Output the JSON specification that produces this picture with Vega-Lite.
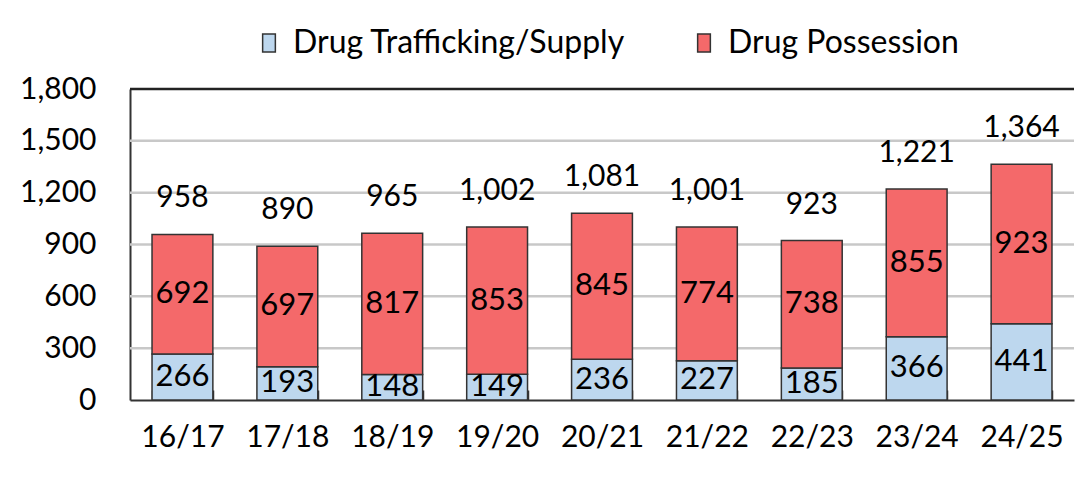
{
  "$schema": "https://vega.github.io/schema/vega-lite/v6.json",
  "width": 944,
  "height": 311,
  "autosize": {"type": "none"},
  "padding": {"left": 130, "top": 89, "right": 3, "bottom": 81},
  "background": "white",
  "config": {
    "font": "Lato",
    "view": {"stroke": null},
    "axis": {"labelFont": "Lato", "labelColor": "black"}
  },
  "datasets": {
    "grid": [{"g": 300}, {"g": 600}, {"g": 900}, {"g": 1200}, {"g": 1500}],
    "top": [{"g": 1800}]
  },
  "data": {
    "values": [
      {"year": "16/17", "type": "Drug Trafficking/Supply", "k": 1, "value": 266},
      {"year": "16/17", "type": "Drug Possession", "k": 2, "value": 692},
      {"year": "17/18", "type": "Drug Trafficking/Supply", "k": 1, "value": 193},
      {"year": "17/18", "type": "Drug Possession", "k": 2, "value": 697},
      {"year": "18/19", "type": "Drug Trafficking/Supply", "k": 1, "value": 148},
      {"year": "18/19", "type": "Drug Possession", "k": 2, "value": 817},
      {"year": "19/20", "type": "Drug Trafficking/Supply", "k": 1, "value": 149},
      {"year": "19/20", "type": "Drug Possession", "k": 2, "value": 853},
      {"year": "20/21", "type": "Drug Trafficking/Supply", "k": 1, "value": 236},
      {"year": "20/21", "type": "Drug Possession", "k": 2, "value": 845},
      {"year": "21/22", "type": "Drug Trafficking/Supply", "k": 1, "value": 227},
      {"year": "21/22", "type": "Drug Possession", "k": 2, "value": 774},
      {"year": "22/23", "type": "Drug Trafficking/Supply", "k": 1, "value": 185},
      {"year": "22/23", "type": "Drug Possession", "k": 2, "value": 738},
      {"year": "23/24", "type": "Drug Trafficking/Supply", "k": 1, "value": 366},
      {"year": "23/24", "type": "Drug Possession", "k": 2, "value": 855},
      {"year": "24/25", "type": "Drug Trafficking/Supply", "k": 1, "value": 441},
      {"year": "24/25", "type": "Drug Possession", "k": 2, "value": 923}
    ]
  },
  "layer": [
    {
      "data": {"name": "grid"},
      "mark": {"type": "rule", "stroke": "#C8C8C8", "strokeWidth": 2.5},
      "encoding": {
        "y": {
          "field": "g", "type": "quantitative", "title": null,
          "axis": {
            "title": null, "values": [0, 300, 600, 900, 1200, 1500, 1800],
            "format": ",d", "labelFontSize": 30, "labelPadding": 34, "ticks": false,
            "domainColor": "#333333", "domainWidth": 2, "grid": false
          }
        }
      }
    },
    {
      "data": {"name": "top"},
      "mark": {"type": "rule", "stroke": "#222222", "strokeWidth": 2.5},
      "encoding": {
        "y": {
          "field": "g", "type": "quantitative", "title": null,
          "axis": {
            "title": null, "values": [0, 300, 600, 900, 1200, 1500, 1800],
            "format": ",d", "labelFontSize": 30, "labelPadding": 34, "ticks": false,
            "domainColor": "#333333", "domainWidth": 2, "grid": false
          }
        }
      }
    },
    {
      "mark": {"type": "bar", "stroke": "#333333", "strokeWidth": 1.5},
      "encoding": {
        "x": {
          "field": "year", "type": "nominal", "sort": null,
          "scale": {"paddingInner": 0.42, "paddingOuter": 0.21},
          "axis": {
            "title": null, "labelAngle": 0, "labelFontSize": 30, "labelPadding": 32,
            "domainColor": "#333333", "domainWidth": 2, "ticks": true,
            "tickColor": "#333333", "tickWidth": 1.5, "tickSize": -10, "tickBand": "extent"
          }
        },
        "y": {
          "field": "value", "type": "quantitative", "stack": "zero", "title": null,
          "scale": {"domain": [0, 1800], "nice": false},
          "axis": {
            "title": null, "values": [0, 300, 600, 900, 1200, 1500, 1800],
            "format": ",d", "labelFontSize": 30, "labelPadding": 34, "ticks": false,
            "domainColor": "#333333", "domainWidth": 2, "grid": false
          }
        },
        "color": {
          "field": "type", "type": "nominal",
          "scale": {"domain": ["Drug Trafficking/Supply", "Drug Possession"], "range": ["#BDD7EE", "#F4696A"]},
          "legend": {
            "title": null, "orient": "none", "direction": "horizontal",
            "legendX": 123, "legendY": -62,
            "labelFontSize": 32, "labelFont": "Lato", "labelColor": "black",
            "symbolType": "M-0.7,-1H0.7V1H-0.7Z", "symbolSize": 330,
            "symbolStrokeColor": "#333333", "symbolStrokeWidth": 1.5,
            "columnPadding": 62, "labelOffset": 8, "labelLimit": 400
          }
        },
        "order": {"field": "k", "type": "quantitative"}
      }
    },
    {
      "transform": [
        {"stack": "value", "groupby": ["year"], "sort": [{"field": "k"}], "as": ["lo", "hi"]},
        {"calculate": "(datum.lo + datum.hi) / 2", "as": "mid"}
      ],
      "mark": {"type": "text", "fontSize": 31, "color": "black", "baseline": "middle"},
      "encoding": {
        "x": {"field": "year", "type": "nominal", "sort": null},
        "y": {
          "field": "mid", "type": "quantitative", "title": null,
          "axis": {
            "title": null, "values": [0, 300, 600, 900, 1200, 1500, 1800],
            "format": ",d", "labelFontSize": 30, "labelPadding": 34, "ticks": false,
            "domainColor": "#333333", "domainWidth": 2, "grid": false
          }
        },
        "text": {"field": "value", "type": "quantitative"}
      }
    },
    {
      "mark": {"type": "text", "fontSize": 30, "color": "black", "baseline": "middle", "dy": -36},
      "encoding": {
        "x": {"field": "year", "type": "nominal", "sort": null},
        "y": {
          "aggregate": "sum", "field": "value", "type": "quantitative", "title": null,
          "axis": {
            "title": null, "values": [0, 300, 600, 900, 1200, 1500, 1800],
            "format": ",d", "labelFontSize": 30, "labelPadding": 34, "ticks": false,
            "domainColor": "#333333", "domainWidth": 2, "grid": false
          }
        },
        "text": {"aggregate": "sum", "field": "value", "type": "quantitative", "format": ","}
      }
    }
  ]
}
